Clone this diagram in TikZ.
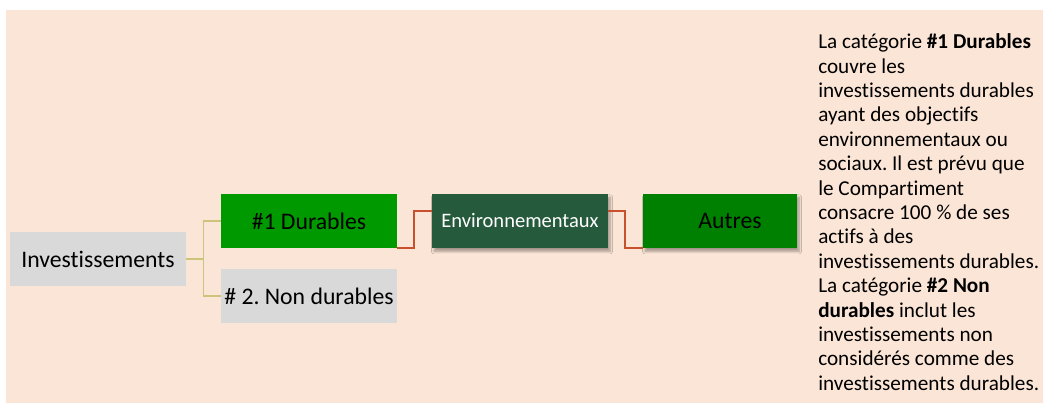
\documentclass[tikz,border=0pt]{standalone}
\usepackage{fontspec}
\setmainfont{Carlito}[Ligatures=NoCommon]
\usepackage{xcolor}
\definecolor{peach}{HTML}{FBE5D6}
\definecolor{lightgrey}{HTML}{D9D9D9}
\definecolor{durgreen}{HTML}{009900}
\definecolor{envgreen}{HTML}{265A3C}
\definecolor{autgreen}{HTML}{008000}
\definecolor{tanline}{HTML}{CDC47C}
\definecolor{redline}{HTML}{C9502C}
\usepackage{tikz}
\usetikzlibrary{positioning,calc,shadows.blur}
\frenchspacing

\begin{document}
\begin{tikzpicture}[
  x=0.75pt, y=-0.75pt,
  cat/.style={inner sep=0pt, minimum width=132pt, minimum height=40.5pt,
              font=\fontsize{17.8}{21}\selectfont, align=center},
  greybox/.style={cat, fill=lightgrey},
  greenbox/.style={cat, fill=durgreen},
  subbox/.style={cat, blur shadow={shadow xshift=1.5pt, shadow yshift=-2.5pt,
                 shadow blur steps=6, shadow opacity=35}},
  branch/.style={tanline, line width=0.8pt},
  link/.style={redline, line width=1.3pt},
  note/.style={inner sep=0pt, align=left, anchor=north west,
               font=\fontsize{15.9}{18.3}\selectfont}
]
  \useasboundingbox (0,0) rectangle (1043,403);
  \fill[peach] (6,10) rectangle (1043,403);

  \node[greybox] (inv) at (98,259) {Investissements};
  \node[greenbox] (dur) at (309,221) {\#1 Durables};
  \node[greybox] (non) at (309,296) {\# 2. Non durables};
  \node[subbox, fill=envgreen, text=white, font=\fontsize{15.4}{18}\selectfont] (env) at (520,221) {Environnementaux};
  \node[subbox, fill=autgreen, minimum width=115.5pt] (aut) at (720,221) {\hspace*{15pt}Autres};

  % tree branches
  \draw[branch] (inv.east) -- ++(17,0) |- (dur.west);
  \draw[branch] (inv.east) -- ++(17,0) |- (non.west);
  % links
  \draw[link] (dur.south east) -- ++(17,0) |- ([yshift=7.5pt]env.west);
  \draw[link] ([yshift=7.5pt]env.east) -- ++(17,0) |- (aut.south west);

  \node[note] (txt) at (818,33.5) {La catégorie \textbf{\#1 Durables}\\
    couvre les\\
    investissements durables\\
    ayant des objectifs\\
    environnementaux ou\\
    sociaux. Il est prévu que\\
    le Compartiment\\
    consacre 100 \% de ses\\
    actifs à des\\
    investissements durables.\\
    La catégorie \textbf{\#2 Non}\\
    \textbf{durables} inclut les\\
    investissements non\\
    considérés comme des\\
    investissements durables.};
\end{tikzpicture}
\end{document}
